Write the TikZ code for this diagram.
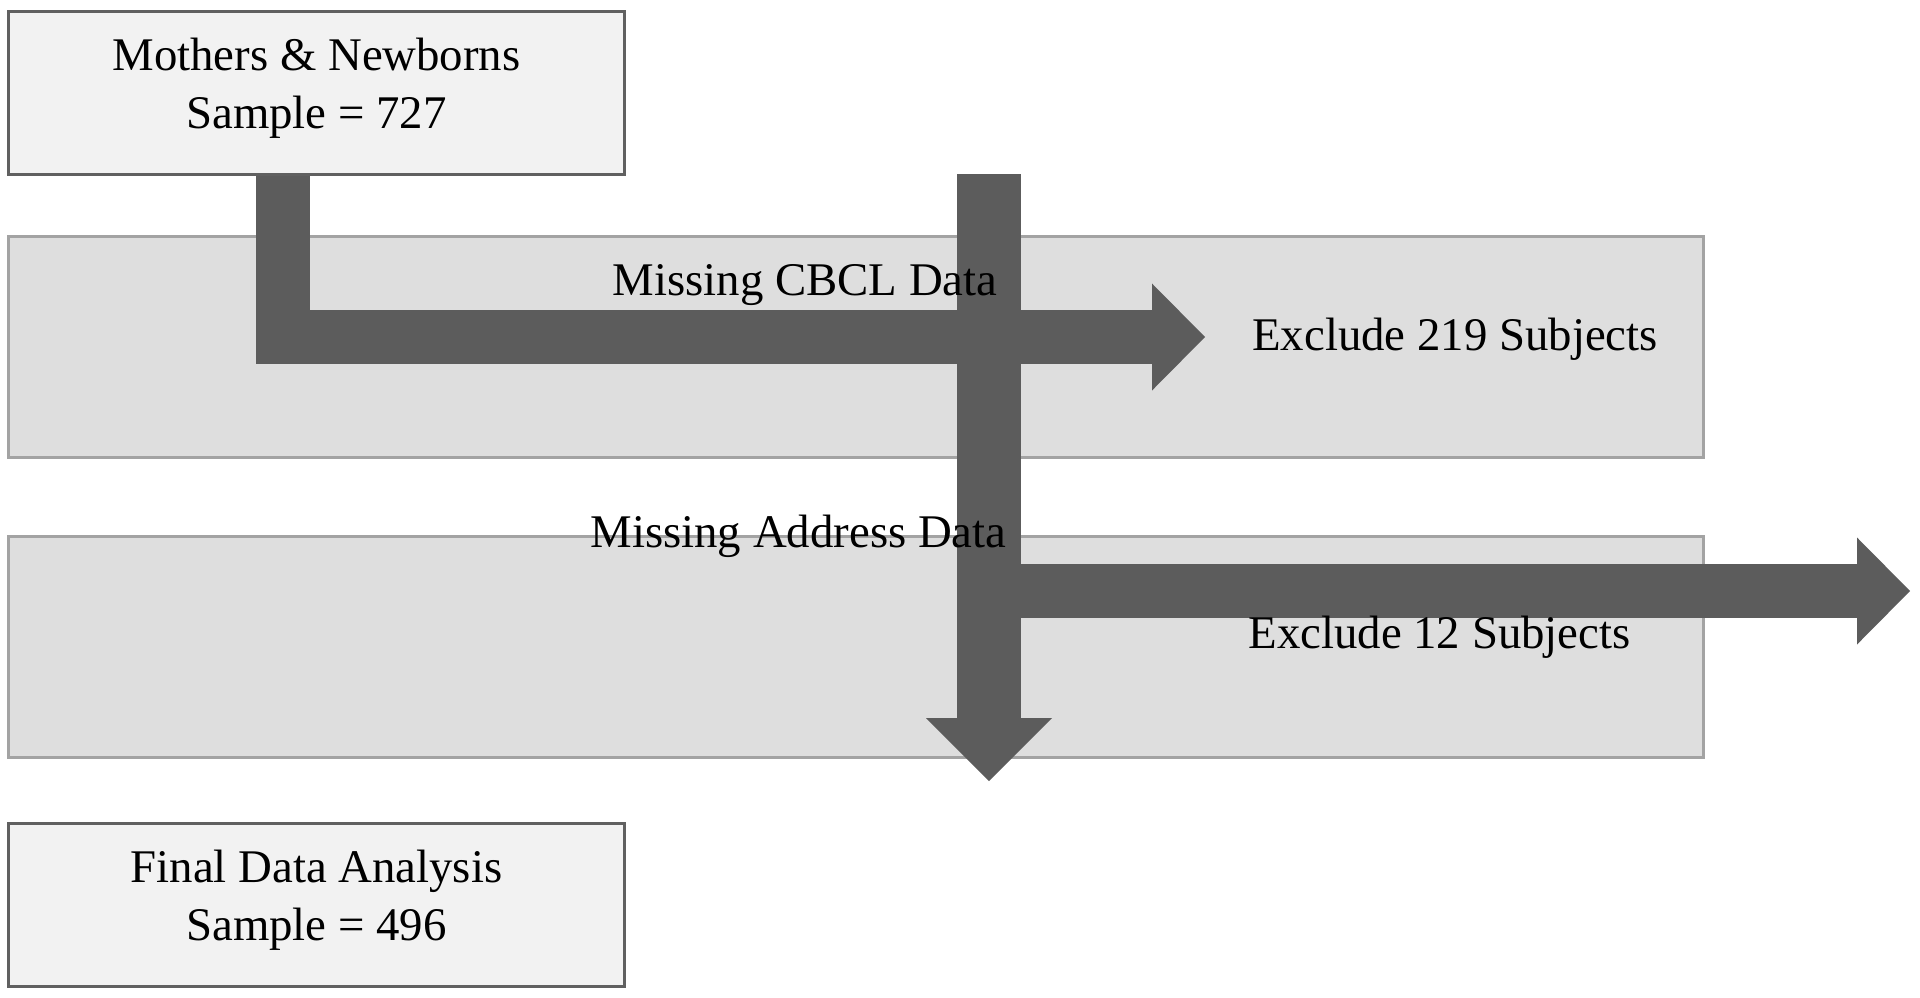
\documentclass[tikz,border=0pt]{standalone}
\usepackage{fontspec}
\setmainfont{Liberation Serif}
\usetikzlibrary{arrows.meta,calc}
\definecolor{boxfill}{HTML}{F2F2F2}
\definecolor{boxline}{HTML}{606060}
\definecolor{bandfill}{HTML}{DEDEDE}
\definecolor{bandline}{HTML}{A3A3A3}
\definecolor{arrowgray}{HTML}{5C5C5C}
\tikzset{
  txt/.style={font=\fontsize{23.4pt}{29pt}\selectfont, text=black, inner sep=0pt},
  endbox/.style={txt, draw=boxline, fill=boxfill, line width=1.5pt, minimum width=308pt, minimum height=81.5pt, align=center},
  band/.style={draw=bandline, fill=bandfill, line width=1.5pt, minimum width=847.2pt, minimum height=110.5pt, inner sep=0pt},
  flowthin/.style={draw=arrowgray, line width=27pt, line join=miter, line cap=butt,
    -{Triangle[length=26.5pt,width=53.5pt,line width=0pt]}},
  flowthick/.style={draw=arrowgray, line width=32pt, line join=miter, line cap=butt,
    -{Triangle[length=31.5pt,width=63pt,line width=0pt]}},
}
\begin{document}
\begin{tikzpicture}[x=0.5pt,y=-0.5pt]
\fill[white] (0,0) rectangle (1920,997);
\path[use as bounding box] (0,0) rectangle (1920,997);

% bands
\node[band] (band1) at (855.8,346.5) {};
\node[band] (band2) at (855.8,646.5) {};

% end boxes
\node[endbox] (top) at (316.5,92.5) {Mothers \& Newborns\\Sample = 727\rule[-9.5pt]{0pt}{9.5pt}};
\node[endbox] (final) at (316.5,904.5) {Final Data Analysis\\Sample = 496\rule[-9.5pt]{0pt}{9.5pt}};

% arrow endpoints
\coordinate (a1start) at ($(top.south)+(-33.5,0)$);
\coordinate (a1tip) at (1205,337);
\coordinate (a2start) at (989,174);
\coordinate (a2tip) at (989,781);
\coordinate (a3start) at (989,591);
\coordinate (a3tip) at (1910,591);

% arrows
\draw[flowthin] (a1start) |- (a1tip);
\draw[flowthick] (a2start) -- (a2tip);
\draw[flowthin] (a3start) -- (a3tip);

% labels
\node[txt, anchor=base] (cbcl) at (805,295) {Missing CBCL Data};
\node[txt, anchor=base] (ex219) at (1455,350) {Exclude 219 Subjects};
\node[txt, anchor=base] (addr) at (798.5,547) {Missing Address Data};
\node[txt, anchor=base] (ex12) at (1439.5,648) {Exclude 12 Subjects};
\end{tikzpicture}
\end{document}
